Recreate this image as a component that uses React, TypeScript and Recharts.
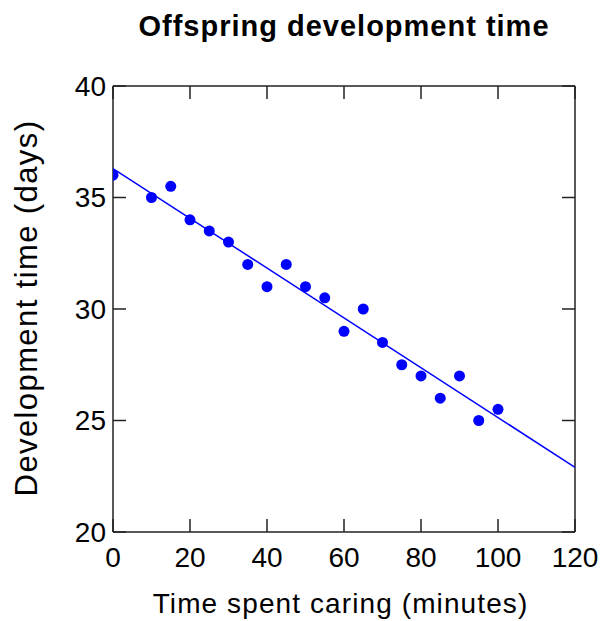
import {
  ScatterChart,
  Scatter,
  XAxis,
  YAxis,
} from 'recharts';

// caring time (minutes) vs development time (days)
const caringMinutes = [0, 10, 15, 20, 25, 30, 35, 40, 45, 50, 55, 60, 65, 70, 75, 80, 85, 90, 95, 100];
const devDays = [36, 35, 35.5, 34, 33.5, 33, 32, 31, 32, 31, 30.5, 29, 30, 28.5, 27.5, 27, 26, 27, 25, 25.5];

// fitted line, read at both ends of the x range
const fitX = [0, 120];
const fitY = [36.3, 22.9];

const xTicks = [0, 20, 40, 60, 80, 100, 120];
const yTicks = [20, 25, 30, 35, 40];

const FONT = '"Liberation Sans", Arial, sans-serif';
const BLUE = '#0000ff';
const AXIS = '#222';
const TICK_LEN = 13;
const X_GAP = 15;
const Y_GAP = 7;

const points = caringMinutes.map((x, i) => ({ x, y: devDays[i] }));
const fitLine = fitX.map((x, i) => ({ x, y: fitY[i] }));

// ticks point into the plot, so each tick draws its own mark
const BottomTick = (p: any) => (
  <g>
    <line x1={p.x} x2={p.x} y1={p.y - X_GAP} y2={p.y - X_GAP - TICK_LEN} stroke={AXIS} strokeWidth={1.5} />
    <text x={p.x} y={p.y} dy="0.71em" textAnchor="middle" fontSize={28} fontFamily={FONT} fill="#000">
      {p.payload.value}
    </text>
  </g>
);

const LeftTick = (p: any) => (
  <g>
    <line x1={p.x + Y_GAP} x2={p.x + Y_GAP + TICK_LEN} y1={p.y} y2={p.y} stroke={AXIS} strokeWidth={1.5} />
    <text x={p.x} y={p.y} dy="0.355em" textAnchor="end" fontSize={28} fontFamily={FONT} fill="#000">
      {p.payload.value}
    </text>
  </g>
);

const TopTick = (p: any) => (
  <line x1={p.x} x2={p.x} y1={p.y} y2={p.y + TICK_LEN} stroke={AXIS} strokeWidth={1.5} />
);

const RightTick = (p: any) => (
  <line x1={p.x} x2={p.x - TICK_LEN} y1={p.y} y2={p.y} stroke={AXIS} strokeWidth={1.5} />
);

export default function App() {
  return (
    <div style={{ position: 'relative', width: 603, height: 621, fontFamily: FONT }}>
      <style>{`body { margin: 0; }`}</style>
      <div
        style={{
          position: 'absolute',
          top: 10,
          left: 0,
          width: 688,
          textAlign: 'center',
          fontSize: 29,
          fontWeight: 'bold',
          letterSpacing: 1,
          color: '#000',
        }}
      >
        Offspring development time
      </div>
      <ScatterChart
        width={603}
        height={621}
        margin={{ top: 85, right: 27, left: 53, bottom: 39 }}
      >
        <XAxis
          dataKey="x"
          type="number"
          domain={[0, 120]}
          ticks={xTicks}
          height={50}
          axisLine={{ stroke: AXIS, strokeWidth: 1.5 }}
          tickLine={false}
          tickSize={0}
          tickMargin={X_GAP}
          tick={BottomTick}
          allowDataOverflow
        />
        <XAxis
          xAxisId="top"
          orientation="top"
          dataKey="x"
          type="number"
          domain={[0, 120]}
          ticks={xTicks}
          height={1}
          axisLine={{ stroke: AXIS, strokeWidth: 1.5 }}
          tickLine={false}
          tickSize={0}
          tickMargin={0}
          tick={TopTick}
          allowDataOverflow
        />
        <YAxis
          dataKey="y"
          type="number"
          domain={[20, 40]}
          ticks={yTicks}
          width={60}
          axisLine={{ stroke: AXIS, strokeWidth: 1.5 }}
          tickLine={false}
          tickSize={0}
          tickMargin={Y_GAP}
          tick={LeftTick}
          allowDataOverflow
        />
        <YAxis
          yAxisId="right"
          orientation="right"
          dataKey="y"
          type="number"
          domain={[20, 40]}
          ticks={yTicks}
          width={1}
          axisLine={{ stroke: AXIS, strokeWidth: 1.5 }}
          tickLine={false}
          tickSize={0}
          tickMargin={0}
          tick={RightTick}
          allowDataOverflow
        />
        <Scatter
          data={fitLine}
          line={{ stroke: BLUE, strokeWidth: 1.5 }}
          shape={() => <g />}
          isAnimationActive={false}
        />
        <Scatter
          data={points}
          fill={BLUE}
          shape={(props: any) => <circle cx={props.cx} cy={props.cy} r={5.5} fill={BLUE} />}
          isAnimationActive={false}
        />
        {/* ties the top and right frame axes to a series so they are drawn */}
        <Scatter
          xAxisId="top"
          yAxisId="right"
          data={points}
          shape={() => <g />}
          isAnimationActive={false}
        />
      </ScatterChart>
      <div
        style={{
          position: 'absolute',
          left: 27,
          top: 308,
          transform: 'translate(-50%, -50%) rotate(-90deg)',
          whiteSpace: 'nowrap',
          fontSize: 31,
          letterSpacing: 1.4,
          color: '#000',
        }}
      >
        Development time (days)
      </div>
      <div
        style={{
          position: 'absolute',
          left: 0,
          width: 681,
          top: 588,
          textAlign: 'center',
          fontSize: 28,
          letterSpacing: 1.1,
          color: '#000',
        }}
      >
        Time spent caring (minutes)
      </div>
    </div>
  );
}
